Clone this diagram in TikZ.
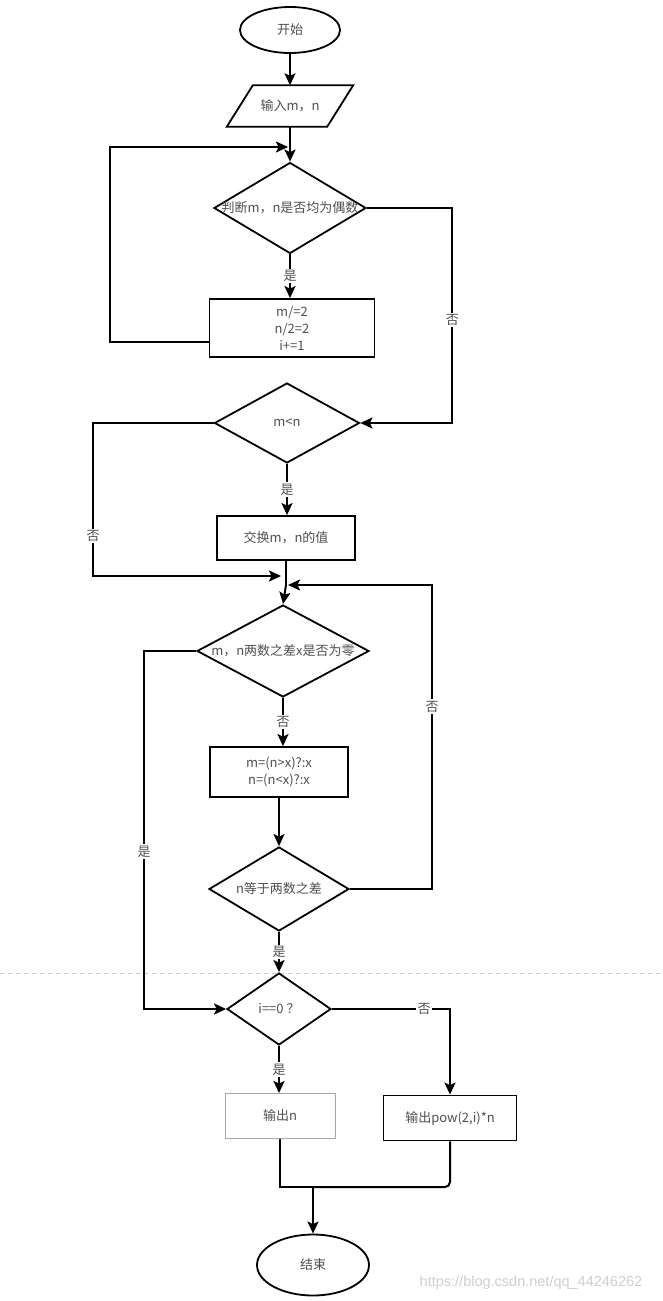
\documentclass[tikz,border=0pt]{standalone}
\usepackage{fontspec}
\setmainfont{Noto Sans CJK SC}
\newfontfamily\wmfont{Liberation Sans}
\usetikzlibrary{shapes.geometric,arrows.meta}
\definecolor{txt}{HTML}{505050}
\definecolor{wm}{HTML}{CFCFCF}
\definecolor{dashc}{HTML}{C8C8C8}
\tikzset{
  base/.style={inner sep=0pt, text=txt, font=\fontsize{13}{17}\selectfont, align=center},
  term/.style={base, ellipse, draw, line width=1.8pt, fill=white},
  dia/.style={base, diamond, draw, line width=1.8pt, fill=white},
  box/.style={base, rectangle, draw, line width=1.8pt, fill=white},
  thinbox/.style={base, rectangle, draw=gray!70, line width=0.9pt, fill=white},
  ln/.style={line width=2pt, black},
  arr/.style={ln, -{Stealth[length=12pt,width=11pt,inset=2.5pt]}},
  lbl/.style={base, fill=white, inner sep=1.5pt}
}
\begin{document}
\begin{tikzpicture}[x=1pt,y=-1pt]
\useasboundingbox[fill=white] (0,0) rectangle (662,1301);
% dashed page-break line
\draw[dashc, line width=0.8pt, dash pattern=on 4pt off 4pt] (0,973) -- (662,973);

% nodes
\node[term, minimum width=100, minimum height=46] (start) at (290,30) {开始};
\node[base, minimum width=100, minimum height=41] (inp) at (290,106) {输入m，n};
\draw[line width=1.8pt] ([xshift=-13]inp.south west) -- ([xshift=13]inp.north west)
  -- ([xshift=13]inp.north east) -- ([xshift=-13]inp.south east) -- cycle;
\node[dia, minimum width=152, minimum height=91, label={[base]center:判断m，n是否均为偶数}] (d1) at (290,208) {};
\node[box, minimum width=165, minimum height=58] (b1) at (292,328) {m/=2\\n/2=2\\i+=1};
\node[dia, minimum width=145, minimum height=80, label={[base]center:m<n}] (d2) at (287,423) {};
\node[box, minimum width=138, minimum height=44] (b2) at (286,538) {交换m，n的值};
\node[dia, minimum width=172, minimum height=92, label={[base]center:m，n两数之差x是否为零}] (d3) at (283,651) {};
\node[box, minimum width=138, minimum height=50] (b3) at (279,772) {m=(n>x)?:x\\n=(n<x)?:x};
\node[dia, minimum width=140, minimum height=84, label={[base]center:n等于两数之差}] (d4) at (279,889) {};
\node[dia, minimum width=104, minimum height=72, label={[base]center:i==0 ？}] (d5) at (279,1009) {};
\node[thinbox, minimum width=110, minimum height=45] (b4) at (280,1116) {输出n};
\node[box, minimum width=133, minimum height=45] (b5) at (450,1118) {输出pow(2,i)*n};
\node[term, minimum width=112, minimum height=61] (end) at (313,1265) {结束};
\node[text=wm, font=\wmfont\fontsize{14.5}{16}\selectfont, inner sep=0pt] (wmk) at (531,1283) {https://blog.csdn.net/qq\_44246262};

\coordinate (m1) at (290,147);
\coordinate (m2) at (284,576);
\coordinate (m3) at (284,585);
\coordinate (j) at (313,1187);

% connectors
\draw[arr] (start.south) -- (inp.north);
\draw[arr] (inp.south) -- (d1.north);
\draw[arr] ([yshift=-14]b1.west) -| ([xshift=-180]m1) -- ([xshift=-2]m1);
\draw[arr] (d1.south) -- node[lbl]{是} (d1.south |- b1.north);
\draw[arr] (d1.east) -| node[lbl, pos=0.76]{否} ([xshift=92]d2.east) -- (d2.east);
\draw[arr] (d2.south) -- node[lbl]{是} (d2.south |- b2.north);
\draw[arr] (d2.west) -| node[lbl, pos=0.87]{否} ([xshift=-191]m2) -- ([xshift=-3]m2);
\draw[ln] (b2.south) -- (b2.south |- m3);
\draw[arr] (b2.south |- m3) -- (d3.north);
\draw[arr] (d4.east) -| node[lbl, pos=0.8]{否} ([xshift=148]m3) -- ([xshift=4]m3);
\draw[arr] (d3.south) -- node[lbl]{否} (d3.south |- b3.north);
\draw[arr] (b3.south) -- (d4.north);
\draw[arr] (d4.south) -- node[lbl]{是} (d5.north);
\draw[arr] (d3.west) -| node[lbl, pos=0.78]{是} ([xshift=-82]d5.west) -- (d5.west);
\draw[arr] (d5.east) -| node[lbl, pos=0.39]{否} (b5.north);
\draw[arr] (d5.south) -- node[lbl]{是} (d5.south |- b4.north);
\draw[ln] (b4.south) |- (j);
\draw[ln, rounded corners=5pt] (b5.south) |- (j);
\draw[arr] (j) -- (end.north);
\end{tikzpicture}
\end{document}
